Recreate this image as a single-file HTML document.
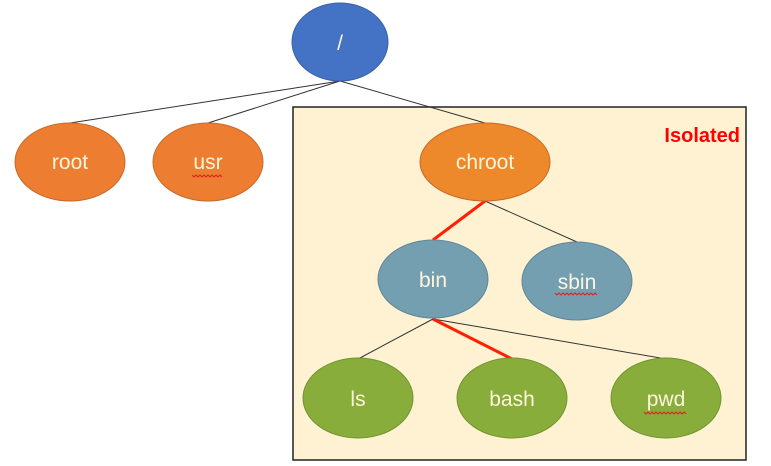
<!DOCTYPE html>
<html><head><meta charset="utf-8"><style>
html,body{margin:0;padding:0;background:#fff;}
svg{display:block;}
text{font-family:"Liberation Sans",sans-serif;}
</style></head><body>
<svg width="771" height="466" viewBox="0 0 771 466" xmlns="http://www.w3.org/2000/svg">
<rect x="293" y="107" width="453" height="353" fill="#FFF2D3" stroke="#222" stroke-width="1.5"/>
<text x="740" y="142" text-anchor="end" font-size="20" font-weight="bold" fill="#FF0000">Isolated</text>
<g stroke="#333" stroke-width="1" fill="none">
<line x1="340" y1="81" x2="70" y2="123"/>
<line x1="340" y1="81" x2="208" y2="123"/>
<line x1="340" y1="81" x2="485" y2="123"/>
<line x1="485" y1="201" x2="577" y2="242"/>
<line x1="433" y1="319" x2="358" y2="359"/>
<line x1="433" y1="319" x2="666" y2="359"/>
</g>
<g stroke="#FF2000" stroke-width="3">
<line x1="485" y1="201" x2="433" y2="240"/>
<line x1="433" y1="319" x2="512" y2="359"/>
</g>
<g stroke-width="1">
<ellipse cx="340" cy="42" rx="48" ry="39" fill="#4472C4" stroke="#3A62A8"/>
<ellipse cx="70" cy="162" rx="55" ry="39" fill="#ED7D31" stroke="#C8692A"/>
<ellipse cx="208" cy="162" rx="55" ry="39" fill="#ED7D31" stroke="#C8692A"/>
<ellipse cx="485" cy="162" rx="65" ry="39" fill="#ED882B" stroke="#C8692A"/>
<ellipse cx="433" cy="279" rx="55" ry="39" fill="#749FB0" stroke="#5F8799"/>
<ellipse cx="577" cy="281" rx="55" ry="39" fill="#749FB0" stroke="#5F8799"/>
<ellipse cx="358" cy="398" rx="55" ry="40" fill="#88AD3A" stroke="#739332"/>
<ellipse cx="512" cy="398" rx="55" ry="40" fill="#88AD3A" stroke="#739332"/>
<ellipse cx="666" cy="398" rx="55" ry="40" fill="#88AD3A" stroke="#739332"/>
</g>
<g fill="#FFF5DC" font-size="21" text-anchor="middle">
<text x="340" y="50">/</text>
<text x="70" y="169">root</text>
<text x="208" y="169">usr</text>
<text x="485" y="169">chroot</text>
<text x="433" y="287">bin</text>
<text x="577" y="289">sbin</text>
<text x="358" y="406">ls</text>
<text x="512" y="406">bash</text>
<text x="666" y="406">pwd</text>
</g>
<g stroke="#E02020" stroke-width="1" fill="none">
<path d="M192 175 l2 2 l2 -2 l2 2 l2 -2 l2 2 l2 -2 l2 2 l2 -2 l2 2 l2 -2 l2 2 l2 -2 l2 2 l2 -2 l2 2"/>
<path d="M555 293 l2 2 l2 -2 l2 2 l2 -2 l2 2 l2 -2 l2 2 l2 -2 l2 2 l2 -2 l2 2 l2 -2 l2 2 l2 -2 l2 2 l2 -2 l2 2 l2 -2 l2 2 l2 -2 l2 2"/>
<path d="M644 412 l2 2 l2 -2 l2 2 l2 -2 l2 2 l2 -2 l2 2 l2 -2 l2 2 l2 -2 l2 2 l2 -2 l2 2 l2 -2 l2 2 l2 -2 l2 2 l2 -2 l2 2 l2 -2 l2 2"/>
</g>
</svg>
</body></html>
